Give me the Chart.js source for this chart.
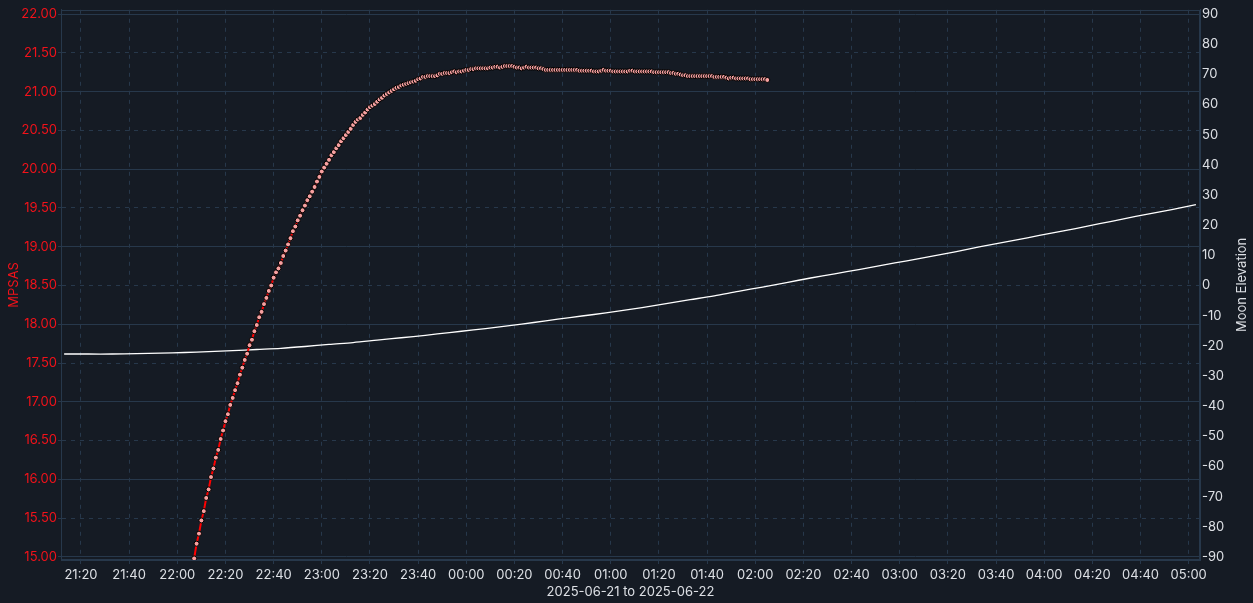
<!DOCTYPE html>
<html>
<head>
<meta charset="utf-8">
<title>MPSAS and Moon Elevation</title>
<script src="https://cdn.jsdelivr.net/npm/chart.js@4.4.1/dist/chart.umd.min.js"></script>
<style>
  html, body { margin: 0; padding: 0; background: #151b24; }
  #wrap { width: 1253px; height: 603px; position: relative; }
</style>
</head>
<body>
<div id="wrap"><canvas id="skyChart"></canvas></div>
<script>
// Sky brightness readings, one per minute starting at mpsasStart
const mpsasStart = '22:07';
const mpsasValues = [
  14.98, 15.17, 15.30, 15.47, 15.59, 15.76, 15.87, 16.03, 16.14, 16.28,
  16.38, 16.52, 16.63, 16.75, 16.84, 16.96, 17.05, 17.15, 17.24, 17.35,
  17.44, 17.54, 17.62, 17.73, 17.80, 17.91, 17.99, 18.09, 18.16, 18.26,
  18.34, 18.43, 18.50, 18.60, 18.67, 18.72, 18.79, 18.88, 18.95, 19.03,
  19.11, 19.20, 19.26, 19.34, 19.40, 19.47, 19.53, 19.60, 19.65, 19.71,
  19.77, 19.84, 19.90, 19.97, 20.02, 20.07, 20.12, 20.18, 20.22, 20.27,
  20.31, 20.36, 20.40, 20.44, 20.48, 20.52, 20.57, 20.61, 20.64, 20.66,
  20.70, 20.73, 20.77, 20.80, 20.82, 20.84, 20.87, 20.90, 20.92, 20.95,
  20.97, 20.99, 21.01, 21.03, 21.05, 21.06, 21.08, 21.09, 21.10, 21.11,
  21.12, 21.13, 21.14, 21.16, 21.17, 21.19, 21.19, 21.20, 21.20, 21.20,
  21.20, 21.21, 21.23, 21.23, 21.24, 21.24, 21.24, 21.25, 21.26, 21.25,
  21.26, 21.26, 21.27,
  21.28, 21.28, 21.29, 21.29, 21.30, 21.30, 21.30, 21.30, 21.30, 21.30,
  21.31, 21.31, 21.32, 21.32, 21.31, 21.32, 21.33, 21.33, 21.33, 21.33,
  21.32, 21.31, 21.31, 21.30, 21.31, 21.32, 21.31, 21.31, 21.31, 21.31,
  21.30, 21.30, 21.29, 21.28, 21.28, 21.28, 21.28, 21.28, 21.28, 21.28,
  21.28, 21.28, 21.28, 21.28, 21.28, 21.28, 21.28, 21.27, 21.27, 21.27,
  21.27, 21.27, 21.27, 21.26, 21.26, 21.26, 21.27, 21.28, 21.27, 21.27,
  21.27, 21.26, 21.26, 21.26, 21.26, 21.26, 21.26, 21.26, 21.27, 21.27,
  21.26, 21.26, 21.26, 21.26, 21.26, 21.26, 21.26, 21.26, 21.25, 21.25,
  21.25, 21.25, 21.25, 21.25, 21.25, 21.24, 21.24, 21.23, 21.23, 21.22,
  21.21, 21.21, 21.20, 21.20, 21.20, 21.20, 21.20, 21.20, 21.20, 21.20,
  21.20, 21.20, 21.20, 21.19, 21.19, 21.19, 21.19, 21.19, 21.18, 21.17,
  21.18, 21.18, 21.17, 21.17, 21.17, 21.17, 21.17, 21.17, 21.16, 21.16,
  21.16, 21.16, 21.16, 21.16, 21.16, 21.15
];

// Moon elevation (degrees), every 10 minutes from moonStart
const moonStart = '21:13';
const moonStepMin = 10;
const moonValues = [
  -22.7, -22.7, -22.7, -22.6, -22.4, -22.2, -21.9, -21.6, -21.2, -20.8,
  -20.2, -19.5, -18.9, -18.1, -17.3, -16.5, -15.6, -14.7, -13.8, -12.8,
  -11.7, -10.6, -9.6, -8.5, -7.3, -6.0, -4.7, -3.4, -1.9, -0.5,
  1.0, 2.5, 3.9, 5.3, 6.8, 8.2, 9.7, 11.2, 12.8, 14.3,
  15.8, 17.4, 18.9, 20.5, 22.1, 23.7, 25.2, 26.8
];

const timeTicks = [
  '21:20', '21:40', '22:00', '22:20', '22:40', '23:00', '23:20', '23:40',
  '00:00', '00:20', '00:40', '01:00', '01:20', '01:40', '02:00', '02:20',
  '02:40', '03:00', '03:20', '03:40', '04:00', '04:20', '04:40', '05:00'
];
const mpsasTicks = [15, 15.5, 16, 16.5, 17, 17.5, 18, 18.5, 19, 19.5, 20, 20.5, 21, 21.5, 22];
const moonTicks = [-90, -80, -70, -60, -50, -40, -30, -20, -10, 0, 10, 20, 30, 40, 50, 60, 70, 80, 90];
const xTitle = '2025-06-21 to 2025-06-22';

const gridColor = '#27384b';
const redText = '#f2121a';
const lightText = '#dde0e5';
const FONT = 'Inter, "Noto Sans", sans-serif';

// minutes since 2025-06-21 00:00 (times before noon belong to the next day)
function toMin(hhmm) {
  const [h, m] = hhmm.split(':').map(Number);
  return h * 60 + m + (h < 12 ? 1440 : 0);
}
function fmtMin(v) {
  const m = ((Math.round(v) % 1440) + 1440) % 1440;
  return String(Math.floor(m / 60)).padStart(2, '0') + ':' + String(m % 60).padStart(2, '0');
}

const mpsasPoints = mpsasValues.map((v, i) => ({ x: toMin(mpsasStart) + i, y: v }));
const moonPoints = moonValues.map((v, i) => ({ x: toMin(moonStart) + i * moonStepMin, y: v }));

const framePlugin = {
  id: 'frame',
  beforeDatasetsDraw(chart) {
    const { ctx, chartArea: a } = chart;
    ctx.save();
    ctx.strokeStyle = gridColor;
    ctx.lineWidth = 1;
    ctx.strokeRect(Math.round(a.left) + 0.5, Math.round(a.top) + 0.5,
      Math.round(a.width) - 1, Math.round(a.height) - 1);
    ctx.restore();
  },
  afterDraw(chart) {
    // right axis title reads bottom-to-top
    const { ctx, chartArea: a } = chart;
    ctx.save();
    ctx.translate(1242, (a.top + a.bottom) / 2);
    ctx.rotate(-Math.PI / 2);
    ctx.fillStyle = lightText;
    ctx.font = '13px ' + FONT;
    ctx.textAlign = 'center';
    ctx.textBaseline = 'middle';
    ctx.fillText('Moon Elevation', 0, 0);
    ctx.restore();
  }
};

new Chart(document.getElementById('skyChart'), {
  type: 'line',
  data: {
    datasets: [
      {
        label: 'MPSAS',
        data: mpsasPoints,
        yAxisID: 'y',
        borderColor: '#ff0000',
        borderWidth: 2,
        pointRadius: 2.5,
        pointBorderWidth: 1,
        pointBackgroundColor: '#f7a0a0',
        pointBorderColor: '#000000',
        tension: 0
      },
      {
        label: 'Moon Elevation',
        data: moonPoints,
        yAxisID: 'y2',
        borderColor: '#ffffff',
        borderWidth: 1.3,
        pointRadius: 0,
        tension: 0.3
      }
    ]
  },
  options: {
    responsive: true,
    maintainAspectRatio: false,
    animation: false,
    layout: { padding: { top: 8 } },
    plugins: { legend: { display: false }, tooltip: { enabled: false } },
    scales: {
      x: {
        type: 'linear',
        min: 1271.7,
        max: 1744.7,
        afterBuildTicks: s => { s.ticks = timeTicks.map(t => ({ value: toMin(t) })); },
        afterFit: s => { s.height = 43; },
        ticks: {
          autoSkip: false, maxRotation: 0, padding: 3,
          color: lightText, font: { family: FONT, size: 13 },
          callback: v => fmtMin(v)
        },
        grid: { color: gridColor, tickLength: 4 },
        border: { color: gridColor, dash: [4, 5] },
        title: {
          display: true, text: xTitle, color: lightText,
          font: { family: FONT, size: 13 }, padding: { top: 0, bottom: 3 }
        }
      },
      y: {
        position: 'left',
        min: 14.96,
        max: 22.055,
        afterBuildTicks: s => { s.ticks = mpsasTicks.map(v => ({ value: v })); },
        afterFit: s => { s.width = 61; },
        ticks: {
          padding: 1, color: redText, font: { family: FONT, size: 13 },
          callback: v => Number(v).toFixed(2)
        },
        grid: { color: gridColor, tickLength: 3 },
        border: {
          color: gridColor,
          dash: ctx => (ctx.tick && Math.abs(ctx.tick.value % 1) > 0.01) ? [4, 5] : []
        },
        title: {
          display: true, text: 'MPSAS', color: redText,
          font: { family: FONT, size: 13 }, padding: { top: 6, bottom: 0 }
        }
      },
      y2: {
        position: 'right',
        min: -90.99,
        max: 91.42,
        afterBuildTicks: s => { s.ticks = moonTicks.map(v => ({ value: v })); },
        afterFit: s => { s.width = 53; },
        ticks: { padding: 2, color: lightText, font: { family: FONT, size: 13 } },
        grid: { display: false, drawTicks: false },
        border: { color: gridColor }
      }
    }
  },
  plugins: [framePlugin]
});
</script>
</body>
</html>
